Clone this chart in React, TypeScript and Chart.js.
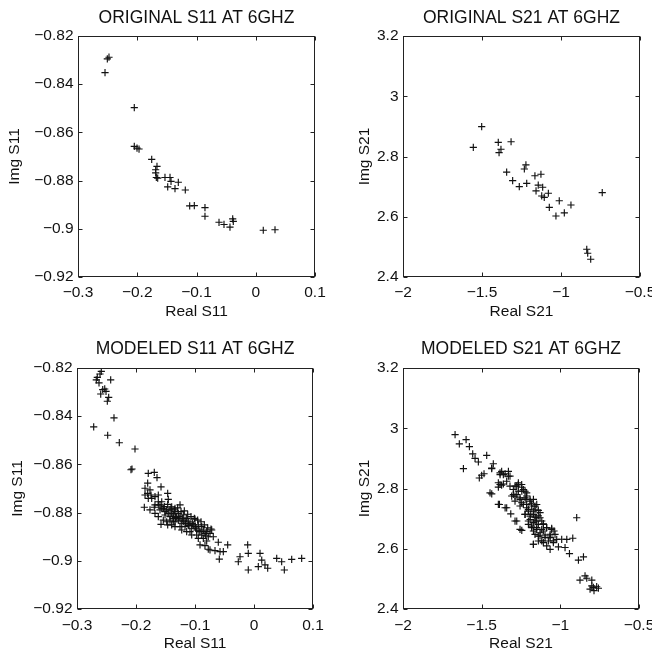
import React, { useEffect, useRef } from "react";
import { Chart, registerables } from "chart.js";

Chart.register(...registerables);

const FONT = "'Liberation Sans', Arial, Helvetica, sans-serif";

// ---- tick values ----
const s11XTicks = [-0.3, -0.2, -0.1, 0, 0.1];
const s11YTicks = [-0.92, -0.9, -0.88, -0.86, -0.84, -0.82];
const s21XTicks = [-2, -1.5, -1, -0.5];
const s21YTicks = [2.4, 2.6, 2.8, 3, 3.2];

// ---- titles ----
const panelTitles = [
  "ORIGINAL S11 AT 6GHZ",
  "ORIGINAL S21 AT 6GHZ",
  "MODELED S11 AT 6GHZ",
  "MODELED S21 AT 6GHZ",
];
const xLabels = ["Real S11", "Real S21", "Real S11", "Real S21"];
const yLabels = ["Img S11", "Img S21", "Img S11", "Img S21"];

// ---- original S11 ----
const origS11Real = [
  -0.2477, -0.2505, -0.2544, -0.205, -0.205, -0.197, -0.2004, -0.1756, -0.1667, -0.1689,
  -0.1689, -0.1678, -0.1655, -0.1532, -0.1447, -0.143, -0.1486, -0.1363, -0.1307, -0.1189,
  -0.1115, -0.1037, -0.0857, -0.0857, -0.062, -0.0536, -0.0435, -0.0389, -0.0379, 0.0127,
  0.0325,
];
const origS11Imag = [
  -0.8288, -0.8295, -0.8352, -0.8497, -0.8658, -0.8669, -0.8665, -0.8712, -0.8741, -0.8755,
  -0.8768, -0.8787, -0.879, -0.8787, -0.8787, -0.8803, -0.8826, -0.8833, -0.8807, -0.8839,
  -0.8905, -0.8904, -0.8912, -0.8948, -0.8973, -0.8982, -0.8993, -0.8959, -0.8969, -0.9006,
  -0.9004,
];

// ---- original S21 ----
const origS21Real = [
  -1.502, -1.555, -1.397, -1.316, -1.38, -1.392, -1.222, -1.232, -1.344, -1.306,
  -1.165, -1.127, -1.264, -1.217, -1.144, -1.116, -1.158, -1.122, -1.106, -1.08,
  -1.011, -1.074, -0.937, -0.979, -1.032, -0.739, -0.837, -0.831, -0.812,
];
const origS21Imag = [
  2.899, 2.8305, 2.847, 2.849, 2.824, 2.813, 2.772, 2.7585, 2.748, 2.72,
  2.736, 2.741, 2.7, 2.711, 2.705, 2.698, 2.686, 2.669, 2.6645, 2.678,
  2.653, 2.631, 2.639, 2.613, 2.6025, 2.68, 2.492, 2.479, 2.459,
];

// ---- modeled S11 ----
const modS11Real = [
  -0.2588, -0.261, -0.2656, -0.2673, -0.2429, -0.2627, -0.2564, -0.253, -0.2508, -0.2598,
  -0.2463, -0.2486, -0.2373, -0.2717, -0.248, -0.2283, -0.2017, -0.2085, -0.2068,
  -0.1792, -0.169, -0.1644, -0.1802, -0.1847, -0.1576, -0.1802, -0.1746, -0.1678, -0.1463,
  -0.1453, -0.1859, -0.169, -0.1622, -0.1593, -0.1537, -0.148, -0.1395, -0.1339, -0.1254,
  -0.1622, -0.1576, -0.1463, -0.1508, -0.1424, -0.1368, -0.1339, -0.1395, -0.1283, -0.1198,
  -0.1141, -0.1, -0.1225, -0.1169, -0.1114, -0.1056, -0.0971, -0.0915, -0.0831, -0.0717,
  -0.0775, -0.0859, -0.0802, -0.0915, -0.0831, -0.0605, -0.069, -0.0746, -0.0576, -0.052,
  -0.0446, -0.0588, -0.0237, -0.0266, -0.0107, -0.0097, -0.0097, 0.0102, 0.0131, 0.0073,
  0.0186, 0.0232, 0.0385, 0.0469, 0.0514, 0.0639, 0.0808, -0.0775, -0.0661,
  -0.1508, -0.1453, -0.1368, -0.1339, -0.131, -0.1424, -0.1368, -0.1283, -0.1254, -0.1198,
  -0.1169, -0.1114, -0.1085, -0.1029, -0.1, -0.0944, -0.0886, -0.0859, -0.0802, -0.0746,
  -0.0886, -0.0971, -0.1085, -0.1622, -0.1678, -0.1564, -0.1734, -0.1622, -0.1792, -0.1678,
  -0.1763, -0.1537, -0.148, -0.1395, -0.1339, -0.1254, -0.1225, -0.1141, -0.1056, -0.0944,
  -0.1564, -0.1424, -0.1847, -0.1763,
  -0.1593, -0.152, -0.1463, -0.1407, -0.135, -0.1294, -0.1237, -0.1181, -0.1124, -0.1068,
  -0.1011, -0.0955, -0.0898, -0.0842, -0.0785, -0.0729, -0.1328, -0.1271, -0.1215, -0.1158,
  -0.1102, -0.1045, -0.0989, -0.0932, -0.0819,
];
const modS11Imag = [
  -0.8214, -0.8225, -0.8239, -0.8249, -0.8249, -0.8262, -0.829, -0.8287, -0.8297, -0.8308,
  -0.8322, -0.8338, -0.8407, -0.8444, -0.8479, -0.851, -0.8536, -0.8622, -0.8619,
  -0.8637, -0.8633, -0.8655, -0.8678, -0.8699, -0.8693, -0.872, -0.8727, -0.8734, -0.872,
  -0.8745, -0.8778, -0.8778, -0.8768, -0.8789, -0.8782, -0.8789, -0.8776, -0.8782, -0.8768,
  -0.8817, -0.8849, -0.8851, -0.881, -0.8817, -0.8824, -0.8838, -0.8803, -0.8803, -0.881,
  -0.8824, -0.8827, -0.8844, -0.8858, -0.8851, -0.8865, -0.8872, -0.8879, -0.8886, -0.8872,
  -0.89, -0.8907, -0.8918, -0.8934, -0.8937, -0.8923, -0.89, -0.8955, -0.8962, -0.8962,
  -0.8934, -0.8993, -0.8983, -0.9004, -0.8934, -0.8969, -0.9038, -0.8969, -0.8997, -0.9024,
  -0.9017, -0.9031, -0.899, -0.9004, -0.9038, -0.8994, -0.899, -0.8952, -0.8958,
  -0.8796, -0.8803, -0.881, -0.8796, -0.8817, -0.8831, -0.8838, -0.8831, -0.8824, -0.8838,
  -0.8831, -0.8838, -0.8844, -0.8851, -0.8858, -0.8851, -0.8858, -0.8872, -0.8879, -0.8886,
  -0.8893, -0.8893, -0.8879, -0.8755, -0.8768, -0.8755, -0.8741, -0.8727, -0.8741, -0.8803,
  -0.8789, -0.8831, -0.8838, -0.8851, -0.8858, -0.8858, -0.8872, -0.8879, -0.8893, -0.8907,
  -0.8782, -0.8789, -0.8727, -0.8706,
  -0.8768, -0.8775, -0.8766, -0.8782, -0.8789, -0.878, -0.8796, -0.8793, -0.8807, -0.8817,
  -0.8824, -0.8831, -0.8838, -0.8851, -0.8863, -0.8868, -0.8821, -0.8817, -0.8824, -0.8845,
  -0.8854, -0.8845, -0.8865, -0.8876, -0.8896,
];

// ---- modeled S21 ----
const modS21Real = [
  -1.669, -1.599, -1.642, -1.578, -1.557, -1.542, -1.521, -1.468, -1.616, -1.5,
  -1.485, -1.515, -1.426, -1.436, -1.373, -1.383, -1.351, -1.32, -1.394, -1.373,
  -1.436, -1.387, -1.351, -1.315, -1.277, -1.245, -1.288, -1.267, -1.245, -1.309,
  -1.277, -1.256, -1.224, -1.214, -1.235, -1.192, -1.182, -1.203, -1.161, -1.171,
  -1.15, -1.224, -1.192, -1.161, -1.14, -1.129, -1.118, -1.182, -1.15, -1.129,
  -1.108, -1.087, -1.055, -1.04, -1.065, -1.023, -1.097, -1.171, -1.118, -1.065,
  -1.012, -0.959, -0.921, -0.97, -0.896, -0.942, -0.885, -0.853, -0.843, -0.832,
  -0.875, -0.8, -0.79, -0.811, -0.769, -0.786, -0.8, -0.758,
  -1.245, -1.214, -1.171, -1.15, -1.203, -1.171, -1.108, -1.065, -1.044, -1.14,
  -1.218, -1.188, -1.154, -1.256, -1.288, -1.32, -1.362, -1.33,
  -1.4363, -1.3833, -1.3622, -1.3304, -1.341, -1.3833, -1.3939, -1.2668, -1.2774, -1.2456,
  -1.2986, -1.2668, -1.235, -1.2138, -1.288, -1.2562, -1.2244, -1.1926, -1.2456, -1.2138,
  -1.182, -1.1609, -1.2032, -1.1714, -1.1397, -1.2244, -1.1926, -1.1609, -1.1291, -1.2032,
  -1.1714, -1.1397, -1.1079, -1.182, -1.1503, -1.1185, -1.0867, -1.0549, -1.1609, -1.1291,
  -1.0973, -1.0655, -1.0337, -1.1397, -1.1079, -1.0761, -1.0443, -1.0867, -1.1714, -0.9913,
  -1.4469, -1.3939, -1.341, -1.288, -1.2562, -1.2986,
];
const modS21Imag = [
  2.979, 2.962, 2.948, 2.939, 2.915, 2.9, 2.888, 2.91, 2.866, 2.844,
  2.849, 2.835, 2.882, 2.868, 2.857, 2.846, 2.849, 2.841, 2.819, 2.811,
  2.782, 2.747, 2.736, 2.716, 2.692, 2.661, 2.808, 2.813, 2.804, 2.775,
  2.78, 2.764, 2.791, 2.775, 2.747, 2.758, 2.742, 2.725, 2.731, 2.714,
  2.747, 2.714, 2.697, 2.692, 2.709, 2.72, 2.692, 2.675, 2.67, 2.653,
  2.659, 2.67, 2.668, 2.659, 2.648, 2.631, 2.637, 2.615, 2.626, 2.598,
  2.606, 2.631, 2.635, 2.604, 2.703, 2.584, 2.562, 2.573, 2.51, 2.502,
  2.496, 2.496, 2.472, 2.466, 2.474, 2.461, 2.477, 2.469,
  2.791, 2.736, 2.764, 2.692, 2.681, 2.659, 2.681, 2.637, 2.626, 2.642,
  2.764, 2.714, 2.703, 2.742, 2.758, 2.808, 2.815, 2.857,
  2.8661, 2.8518, 2.8463, 2.8407, 2.8242, 2.8132, 2.8044, 2.8187, 2.8077, 2.8132,
  2.7967, 2.7912, 2.7967, 2.7856, 2.7746, 2.7691, 2.7691, 2.7636, 2.7526, 2.7471,
  2.7493, 2.7416, 2.7305, 2.725, 2.7272, 2.714, 2.7085, 2.7052, 2.703, 2.692,
  2.6865, 2.6809, 2.6831, 2.6699, 2.6644, 2.6644, 2.6699, 2.6644, 2.6479, 2.6424,
  2.6457, 2.6424, 2.6479, 2.6258, 2.6203, 2.6258, 2.6203, 2.6093, 2.6148, 2.6314,
  2.7856, 2.7471, 2.736, 2.692, 2.6644, 2.7801,
];

function fmtTick(v: number): string {
  const r = Math.round(v * 100) / 100;
  return String(r === 0 ? 0 : r).replace("-", "\u2212");
}

const boxPlugin = {
  id: "matlabBox",
  afterDraw(chart: any) {
    const { ctx, chartArea: a, scales } = chart;
    const L = Math.round(a.left) + 0.5;
    const R = Math.round(a.right) - 0.5;
    const T = Math.round(a.top) + 0.5;
    const B = Math.round(a.bottom) - 0.5;
    ctx.save();
    ctx.strokeStyle = "#222";
    ctx.lineWidth = 1;
    ctx.strokeRect(L, T, R - L, B - T);
    const len = 4;
    ctx.beginPath();
    for (const t of scales.x.ticks) {
      const px = Math.round(scales.x.getPixelForValue(t.value)) + 0.5;
      ctx.moveTo(px, B);
      ctx.lineTo(px, B - len);
      ctx.moveTo(px, T);
      ctx.lineTo(px, T + len);
    }
    for (const t of scales.y.ticks) {
      const py = Math.round(scales.y.getPixelForValue(t.value)) + 0.5;
      ctx.moveTo(L, py);
      ctx.lineTo(L + len, py);
      ctx.moveTo(R, py);
      ctx.lineTo(R - len, py);
    }
    ctx.stroke();
    ctx.restore();
  },
};

type Cfg = {
  left: number;
  top: number;
  yAxisW: number;
  padRight: number;
  titleTop: number;
  titleBottom: number;
  xAxisH: number;
  xTickPad: number;
  xTitleBottom: number;
  yTickPad: number;
  yTitlePad: number;
};

type PanelProps = {
  cfg: Cfg;
  title: string;
  xLabel: string;
  yLabel: string;
  xs: number[];
  ys: number[];
  xTicks: number[];
  yTicks: number[];
};

const W = 326;
const H = 327;
const TICK_SIZE = 15.5;
const LABEL_SIZE = 15.5;
const TITLE_SIZE = 17.5;

function Panel({ cfg, title, xLabel, yLabel, xs, ys, xTicks, yTicks }: PanelProps) {
  const ref = useRef<HTMLCanvasElement>(null);
  useEffect(() => {
    const pts = xs.map((x, i) => ({ x, y: ys[i] }));
    const tickFont = { family: FONT, size: TICK_SIZE };
    const chart = new Chart(ref.current as HTMLCanvasElement, {
      type: "scatter",
      data: {
        datasets: [
          {
            data: pts,
            pointStyle: "cross",
            pointRadius: 3.6,
            pointHoverRadius: 3.6,
            borderColor: "#111",
            backgroundColor: "#111",
            borderWidth: 1.15,
          } as any,
        ],
      },
      options: {
        responsive: false,
        animation: false,
        devicePixelRatio: 1,
        events: [],
        layout: { padding: { left: 0, right: cfg.padRight, top: 0, bottom: 0 } },
        plugins: {
          legend: { display: false },
          tooltip: { enabled: false },
          title: {
            display: true,
            text: title,
            fullSize: false,
            color: "#111",
            font: { family: FONT, size: TITLE_SIZE, weight: "normal" },
            padding: { top: cfg.titleTop, bottom: cfg.titleBottom },
          },
        },
        scales: {
          x: {
            type: "linear",
            position: "bottom",
            min: xTicks[0],
            max: xTicks[xTicks.length - 1],
            grid: { display: false, drawTicks: false },
            border: { display: false },
            afterBuildTicks: (s: any) => {
              s.ticks = xTicks.map((v) => ({ value: v }));
            },
            afterFit: (s: any) => {
              s.height = cfg.xAxisH;
              s.paddingLeft = 0;
              s.paddingRight = 0;
            },
            ticks: {
              callback: (v: any) => fmtTick(Number(v)),
              font: tickFont,
              color: "#111",
              padding: cfg.xTickPad,
              maxRotation: 0,
              autoSkip: false,
            },
            title: {
              display: true,
              text: xLabel,
              color: "#111",
              font: { family: FONT, size: LABEL_SIZE },
              padding: { top: 0, bottom: cfg.xTitleBottom },
            },
          },
          y: {
            type: "linear",
            position: "left",
            min: yTicks[0],
            max: yTicks[yTicks.length - 1],
            grid: { display: false, drawTicks: false },
            border: { display: false },
            afterBuildTicks: (s: any) => {
              s.ticks = yTicks.map((v) => ({ value: v }));
            },
            afterFit: (s: any) => {
              s.width = cfg.yAxisW;
              s.paddingTop = 0;
              s.paddingBottom = 0;
            },
            ticks: {
              callback: (v: any) => fmtTick(Number(v)),
              font: tickFont,
              color: "#111",
              padding: cfg.yTickPad,
              autoSkip: false,
            },
            title: {
              display: true,
              text: yLabel,
              color: "#111",
              font: { family: FONT, size: LABEL_SIZE },
              padding: { top: cfg.yTitlePad, bottom: 0 },
            },
          },
        },
      } as any,
      plugins: [boxPlugin],
    });
    return () => chart.destroy();
  }, []);
  return (
    <div style={{ position: "absolute", left: cfg.left, top: cfg.top, width: W, height: H }}>
      <canvas ref={ref} width={W} height={H} style={{ width: W, height: H, display: "block" }} />
    </div>
  );
}

const cfgs: Cfg[] = [
  { left: 0, top: 0, yAxisW: 78, padRight: 11, titleTop: 7.5, titleBottom: 7.5, xAxisH: 50, xTickPad: 6.7, xTitleBottom: 5.7, yTickPad: 4.5, yTitlePad: 5.7 },
  { left: 326, top: 0, yAxisW: 77, padRight: 12, titleTop: 7.5, titleBottom: 7.5, xAxisH: 50, xTickPad: 6.7, xTitleBottom: 5.7, yTickPad: 4.5, yTitlePad: 29 },
  { left: 0, top: 327, yAxisW: 77, padRight: 13, titleTop: 11.5, titleBottom: 8.5, xAxisH: 45, xTickPad: 7.4, xTitleBottom: 0.7, yTickPad: 4.5, yTitlePad: 8.2 },
  { left: 326, top: 327, yAxisW: 77, padRight: 13, titleTop: 11.5, titleBottom: 8.5, xAxisH: 45, xTickPad: 7.4, xTitleBottom: 0.7, yTickPad: 4.5, yTitlePad: 29 },
];

export default function App() {
  return (
    <div style={{ position: "absolute", left: 0, top: 0, width: 652, height: 654, background: "#fff", overflow: "hidden" }}>
      <Panel cfg={cfgs[0]} title={panelTitles[0]} xLabel={xLabels[0]} yLabel={yLabels[0]} xs={origS11Real} ys={origS11Imag} xTicks={s11XTicks} yTicks={s11YTicks} />
      <Panel cfg={cfgs[1]} title={panelTitles[1]} xLabel={xLabels[1]} yLabel={yLabels[1]} xs={origS21Real} ys={origS21Imag} xTicks={s21XTicks} yTicks={s21YTicks} />
      <Panel cfg={cfgs[2]} title={panelTitles[2]} xLabel={xLabels[2]} yLabel={yLabels[2]} xs={modS11Real} ys={modS11Imag} xTicks={s11XTicks} yTicks={s11YTicks} />
      <Panel cfg={cfgs[3]} title={panelTitles[3]} xLabel={xLabels[3]} yLabel={yLabels[3]} xs={modS21Real} ys={modS21Imag} xTicks={s21XTicks} yTicks={s21YTicks} />
    </div>
  );
}
